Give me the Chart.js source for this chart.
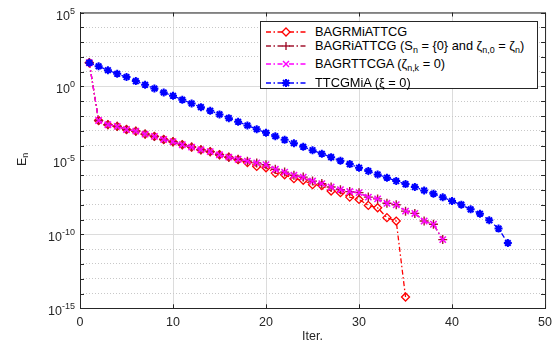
<!DOCTYPE html>
<html lang="en">
  <head>
    <meta charset="UTF-8" />
    <title>E_n versus iterations</title>
    <script src="https://cdn.jsdelivr.net/npm/chart.js"></script>
    <style>
      body {
        margin: 0;
        background: #fff;
      }
      #wrap {
        position: relative;
        width: 559px;
        height: 347px;
        font-family: "Liberation Sans", Arial, sans-serif;
      }
      #legend {
        position: absolute;
        left: 260px;
        top: 21px;
        width: 278px;
        height: 68px;
        border: 1px solid #262626;
        background: #fff;
        box-sizing: border-box;
        font-size: 12.8px;
        color: #000;
      }
      .row {
        position: absolute;
        left: 0;
        height: 14px;
        line-height: 14px;
        white-space: nowrap;
      }
      .row svg {
        position: absolute;
        left: 4px;
        top: 0;
      }
      .row span {
        position: absolute;
        left: 54px;
        top: 0;
      }
      sub {
        font-size: 0.7em;
        vertical-align: -0.35em;
        line-height: 0;
      }
    </style>
  </head>
  <body>
    <div id="wrap">
      <canvas id="chart" width="559" height="347"></canvas>
      <div id="legend">
        <div class="row" style="top: 2.7px">
          <svg width="42" height="14">
            <line x1="1" y1="7" x2="41" y2="7" stroke="#FF0000" stroke-width="1.3" stroke-dasharray="5 2.5 1.5 2.5" />
            <polygon points="21,3 25,7 21,11 17,7" fill="#fff" stroke="#FF0000" stroke-width="1.3" />
          </svg>
          <span>BAGRMiATTCG</span>
        </div>
        <div class="row" style="top: 16.7px">
          <svg width="42" height="14">
            <line x1="1" y1="7" x2="41" y2="7" stroke="#A2142F" stroke-width="1.3" stroke-dasharray="5 2.5 1.5 2.5" />
            <line x1="21" y1="3" x2="21" y2="11" stroke="#A2142F" stroke-width="1.4" />
            <line x1="17" y1="7" x2="25" y2="7" stroke="#A2142F" stroke-width="1.4" />
          </svg>
          <span>BAGRiATTCG (S<sub>n</sub> = {0} and ζ<sub>n,0</sub> = ζ<sub>n</sub>)</span>
        </div>
        <div class="row" style="top: 35.3px">
          <svg width="42" height="14">
            <line x1="1" y1="7" x2="41" y2="7" stroke="#FF00FF" stroke-width="1.3" stroke-dasharray="5 2.5 1.5 2.5" />
            <line x1="18" y1="4" x2="24" y2="10" stroke="#FF00FF" stroke-width="1.4" />
            <line x1="18" y1="10" x2="24" y2="4" stroke="#FF00FF" stroke-width="1.4" />
          </svg>
          <span>BAGRTTCGA (ζ<sub>n,k</sub> = 0)</span>
        </div>
        <div class="row" style="top: 54px">
          <svg width="42" height="14">
            <line x1="1" y1="7" x2="41" y2="7" stroke="#0000FF" stroke-width="1.3" stroke-dasharray="5 2.5 1.5 2.5" />
            <line x1="21" y1="3" x2="21" y2="11" stroke="#0000FF" stroke-width="2" />
            <line x1="17" y1="7" x2="25" y2="7" stroke="#0000FF" stroke-width="2" />
            <line x1="18" y1="4" x2="24" y2="10" stroke="#0000FF" stroke-width="2" />
            <line x1="18" y1="10" x2="24" y2="4" stroke="#0000FF" stroke-width="2" />
          </svg>
          <span>TTCGMiA (ξ = 0)</span>
        </div>
      </div>
    </div>

    <script>
      const iterations = [
        1, 2, 3, 4, 5, 6, 7, 8, 9, 10, 11, 12, 13, 14, 15, 16, 17, 18, 19, 20,
        21, 22, 23, 24, 25, 26, 27, 28, 29, 30, 31, 32, 33, 34, 35, 36, 37, 38,
        39, 40, 41, 42, 43, 44, 45, 46,
      ];

      // BAGRMiATTCG (red diamonds), iterations 1..35
      const bagrmiattcg = [
        4.0e1, 5.0e-3, 2.6e-3, 2.0e-3, 1.23e-3, 9.5e-4, 6.0e-4, 4.2e-4, 2.6e-4,
        1.82e-4, 1.15e-4, 7.9e-5, 5.2e-5, 3.9e-5, 2.4e-5, 1.66e-5, 1.12e-5,
        7.1e-6, 3.9e-6, 3.2e-6, 1.38e-6, 1.07e-6, 5.8e-7, 4.5e-7, 2.3e-7, 2.0e-7,
        8.5e-8, 6.6e-8, 3.3e-8, 2.3e-8, 9.1e-9, 6.3e-9, 1.35e-9, 7.9e-10, 5.8e-15,
      ];

      // BAGRTTCGA (magenta x), iterations 1..39
      const bagrttcga = [
        4.0e1, 5.0e-3, 2.6e-3, 2.0e-3, 1.23e-3, 9.5e-4, 6.0e-4, 4.2e-4, 2.6e-4,
        1.82e-4, 1.15e-4, 7.9e-5, 5.2e-5, 3.9e-5, 2.4e-5, 1.66e-5, 1.2e-5, 8.9e-6,
        6.8e-6, 5.1e-6, 2.5e-6, 1.62e-6, 9.8e-7, 7.4e-7, 4.0e-7, 2.7e-7, 1.58e-7,
        1.05e-7, 7.8e-8, 6.6e-8, 3.3e-8, 2.5e-8, 1.26e-8, 1.0e-8, 3.7e-9, 2.6e-9,
        7.9e-10, 4.8e-10, 4.4e-11,
      ];

      // BAGRiATTCG (dark red +), lies under the magenta curve
      const bagriattcg = [
        4.0e1, 5.0e-3, 2.6e-3, 2.0e-3, 1.23e-3, 9.5e-4, 6.0e-4, 4.2e-4, 2.6e-4,
        1.82e-4, 1.15e-4, 7.9e-5, 5.2e-5, 3.9e-5, 2.4e-5, 1.66e-5, 1.2e-5, 8.9e-6,
        6.8e-6, 5.1e-6, 2.5e-6, 1.62e-6, 9.8e-7, 7.4e-7, 4.0e-7, 2.7e-7, 1.58e-7,
        1.05e-7, 7.8e-8, 6.6e-8, 3.3e-8, 2.5e-8, 1.26e-8, 1.0e-8, 3.7e-9, 2.6e-9,
        7.9e-10, 4.8e-10, 4.4e-11,
      ];

      // TTCGMiA (blue asterisks), iterations 1..46
      const ttcgmia = [
        4.0e1, 2.3e1, 1.26e1, 7.2, 4.3, 2.3, 1.29, 0.72, 0.39, 0.234, 0.126,
        0.071, 0.04, 0.0229, 0.0129, 0.0072, 0.0041, 0.0023, 0.00129, 7.4e-4,
        4.3e-4, 2.45e-4, 1.45e-4, 8.3e-5, 4.9e-5, 2.8e-5, 1.66e-5, 9.5e-6, 5.6e-6,
        3.2e-6, 1.9e-6, 1.12e-6, 6.8e-7, 4.0e-7, 2.5e-7, 1.58e-7, 9.3e-8, 5.6e-8,
        3.2e-8, 1.78e-8, 1.02e-8, 4.9e-9, 2.5e-9, 8.9e-10, 2.45e-10, 2.6e-11,
      ];

      const xTicks = [0, 10, 20, 30, 40, 50];
      const yTicks = [1e5, 1e0, 1e-5, 1e-10, 1e-15];
      const yTickExponents = ["5", "0", "-5", "-10", "-15"];
      const yMinorTicks = [
        1e4, 1e3, 1e2, 1e1, 1e-1, 1e-2, 1e-3, 1e-4, 1e-6, 1e-7, 1e-8, 1e-9,
        1e-11, 1e-12, 1e-13, 1e-14,
      ];

      const FONT = '"Liberation Sans", Arial, sans-serif';
      const AXIS = "#262626";
      const DASH = [5, 2.5, 1.5, 2.5];

      const toPoints = (values) =>
        values.map((v, i) => ({ x: iterations[i], y: v }));

      // axis labels with superscripts/subscripts, top/right box and inward ticks
      const axisExtras = {
        id: "axisExtras",
        afterDatasetsDraw(chart) {
          const { ctx, chartArea: a } = chart;
          const y = chart.scales.y;
          const x = chart.scales.x;
          ctx.save();
          ctx.strokeStyle = AXIS;
          ctx.lineWidth = 1;
          ctx.beginPath();
          ctx.moveTo(a.left, a.top + 0.5);
          ctx.lineTo(a.right + 0.5, a.top + 0.5);
          ctx.lineTo(a.right + 0.5, a.bottom);
          yTicks.concat(yMinorTicks).forEach((v) => {
            const py = Math.round(y.getPixelForValue(v)) + 0.5;
            ctx.moveTo(a.left, py);
            ctx.lineTo(a.left + 4, py);
            ctx.moveTo(a.right, py);
            ctx.lineTo(a.right - 4, py);
          });
          xTicks.forEach((v) => {
            const px = Math.round(x.getPixelForValue(v)) + 0.5;
            ctx.moveTo(px, a.bottom);
            ctx.lineTo(px, a.bottom - 4);
            ctx.moveTo(px, a.top);
            ctx.lineTo(px, a.top + 4);
          });
          ctx.stroke();
          ctx.restore();
        },
        afterDraw(chart) {
          const { ctx } = chart;
          const y = chart.scales.y;
          ctx.save();
          ctx.fillStyle = AXIS;
          ctx.textAlign = "right";
          ctx.textBaseline = "alphabetic";
          const right = y.right - 5;
          yTicks.forEach((v, i) => {
            const py = y.getPixelForValue(v);
            ctx.font = "9px " + FONT;
            const ew = ctx.measureText(yTickExponents[i]).width;
            ctx.fillText(yTickExponents[i], right, py + 1);
            ctx.font = "12.5px " + FONT;
            ctx.fillText("10", right - ew, py + 7);
          });
          // E_n title
          const cy = (y.top + y.bottom) / 2;
          ctx.translate(25.5, cy - 1);
          ctx.rotate(-Math.PI / 2);
          ctx.textAlign = "left";
          ctx.font = "12.5px " + FONT;
          const wE = ctx.measureText("E").width;
          ctx.font = "9px " + FONT;
          const wn = ctx.measureText("n").width;
          const x0 = -(wE + wn) / 2;
          ctx.font = "12.5px " + FONT;
          ctx.fillText("E", x0, 0);
          ctx.font = "9px " + FONT;
          ctx.fillText("n", x0 + wE, 2.5);
          ctx.restore();
        },
      };

      new Chart(document.getElementById("chart"), {
        type: "line",
        data: {
          datasets: [
            {
              label: "BAGRMiATTCG",
              data: toPoints(bagrmiattcg),
              borderColor: "#FF0000",
              borderWidth: 1.3,
              borderDash: DASH,
              pointStyle: "rectRot",
              pointRadius: 4,
              pointBorderWidth: 1.3,
              pointBorderColor: "#FF0000",
              pointBackgroundColor: "rgba(255,255,255,0)",
              order: 4,
            },
            {
              label: "BAGRiATTCG",
              data: toPoints(bagriattcg),
              borderColor: "#A2142F",
              borderWidth: 1.3,
              borderDash: DASH,
              pointStyle: "cross",
              pointRadius: 4.5,
              pointBorderWidth: 1.4,
              pointBorderColor: "#A2142F",
              order: 3,
            },
            {
              label: "BAGRTTCGA",
              data: toPoints(bagrttcga),
              borderColor: "#FF00FF",
              borderWidth: 1.3,
              borderDash: DASH,
              pointStyle: "crossRot",
              pointRadius: 4.5,
              pointBorderWidth: 1.5,
              pointBorderColor: "#FF00FF",
              order: 2,
            },
            {
              label: "TTCGMiA",
              data: toPoints(ttcgmia),
              borderColor: "#0000FF",
              borderWidth: 1.3,
              borderDash: DASH,
              pointStyle: "star",
              pointRadius: 4,
              pointBorderWidth: 2,
              pointBorderColor: "#0000FF",
              order: 1,
            },
          ],
        },
        options: {
          responsive: false,
          animation: false,
          layout: { padding: { top: 12.5, right: 10.7, left: 0, bottom: 0 } },
          plugins: {
            legend: { display: false },
            tooltip: { enabled: false },
          },
          scales: {
            x: {
              type: "linear",
              min: 0,
              max: 50,
              afterBuildTicks: (s) => {
                s.ticks = xTicks.map((v) => ({ value: v }));
              },
              grid: { color: "#dcdcdc", lineWidth: 1, drawTicks: false },
              border: { color: AXIS, width: 1 },
              ticks: {
                color: AXIS,
                font: { family: FONT, size: 12.5 },
                padding: 7,
                maxRotation: 0,
              },
              title: {
                display: true,
                text: "Iter.",
                color: AXIS,
                font: { family: FONT, size: 12.5 },
                padding: { top: 2, bottom: 3 },
              },
              afterFit: (s) => {
                s.height = 38.7;
              },
            },
            y: {
              type: "logarithmic",
              position: "left",
              min: 1e-15,
              max: 1e5,
              afterBuildTicks: (s) => {
                s.ticks = yTicks.map((v) => ({ value: v }));
              },
              grid: { color: "#dcdcdc", lineWidth: 1, drawTicks: false },
              border: { color: AXIS, width: 1 },
              ticks: { display: false },
              afterFit: (s) => {
                s.width = 80;
              },
            },
            yMinor: {
              type: "logarithmic",
              position: "left",
              min: 1e-15,
              max: 1e5,
              afterBuildTicks: (s) => {
                s.ticks = yMinorTicks.map((v) => ({ value: v }));
              },
              grid: { color: "#c8c8c8", lineWidth: 1, drawTicks: false },
              border: { display: false, dash: [1, 2] },
              ticks: { display: false },
              afterFit: (s) => {
                s.width = 0;
              },
            },
          },
        },
        plugins: [axisExtras],
      });
    </script>
  </body>
</html>
